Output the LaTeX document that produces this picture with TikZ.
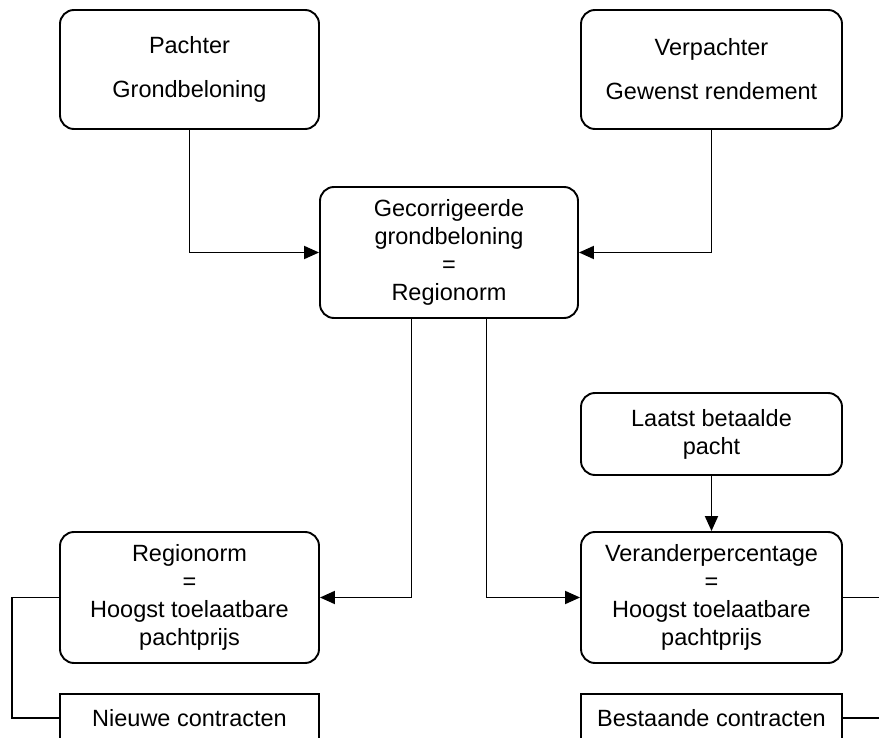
\documentclass[tikz,border=0pt]{standalone}
\usepackage{fontspec}
\setmainfont{Liberation Sans}
\usetikzlibrary{arrows.meta}
\begin{document}
\begin{tikzpicture}[x=1pt,y=-1pt,
  rbox/.style={draw,line width=1.9pt,rounded corners=14pt,align=center,inner sep=0pt,font=\fontsize{23.5}{28}\selectfont},
  sbox/.style={draw,line width=1.9pt,align=center,inner sep=0pt,font=\fontsize{23.5}{28}\selectfont,minimum height=48pt},
  pijl/.style={line width=1.9pt,-{Triangle[length=15pt,width=13pt]}},
  lijn/.style={line width=1.9pt}]
\useasboundingbox (0,0) rectangle (879,738);
\clip (0,0) rectangle (879,738);
\node[rbox,minimum width=259pt,minimum height=119pt] (pachter) at (189.5,69.5) {Pachter\\[16pt]Grondbeloning};
\node[rbox,minimum width=261pt,minimum height=119pt] (verpachter) at (711.5,69.5) {Verpachter\\[16pt]Gewenst rendement};
\node[rbox,minimum width=258pt,minimum height=131pt] (regio) at (449,252.5) {Gecorrigeerde\\grondbeloning\\=\\Regionorm};
\node[rbox,minimum width=261pt,minimum height=82pt] (laatst) at (711.5,434) {Laatst betaalde\\pacht};
\node[rbox,minimum width=259pt,minimum height=131pt] (hoogst) at (189.5,597.5) {Regionorm\\=\\Hoogst toelaatbare\\pachtprijs};
\node[rbox,minimum width=261pt,minimum height=131pt] (verander) at (711.5,597.5) {Veranderpercentage\\=\\Hoogst toelaatbare\\pachtprijs};
\node[sbox,minimum width=259pt] (nieuw) at (189.5,718) {Nieuwe contracten};
\node[sbox,minimum width=261pt] (bestaand) at (711.5,718) {Bestaande contracten};
\coordinate (links) at (12,650);
\coordinate (rechts1) at (895,597.5);
\coordinate (rechts2) at (895,718);
\draw[pijl] (pachter.south) |- (regio.west);
\draw[pijl] (verpachter.south) |- (regio.east);
\draw[pijl] ([xshift=-37.5pt]regio.south) |- (hoogst.east);
\draw[pijl] ([xshift=37.5pt]regio.south) |- (verander.west);
\draw[pijl] (laatst.south) -- (verander.north);
\draw[lijn] (hoogst.west) -| (links) |- (nieuw.west);
\draw[lijn] (verander.east) -- (rechts1);
\draw[lijn] (bestaand.east) -- (rechts2);
\end{tikzpicture}
\end{document}
